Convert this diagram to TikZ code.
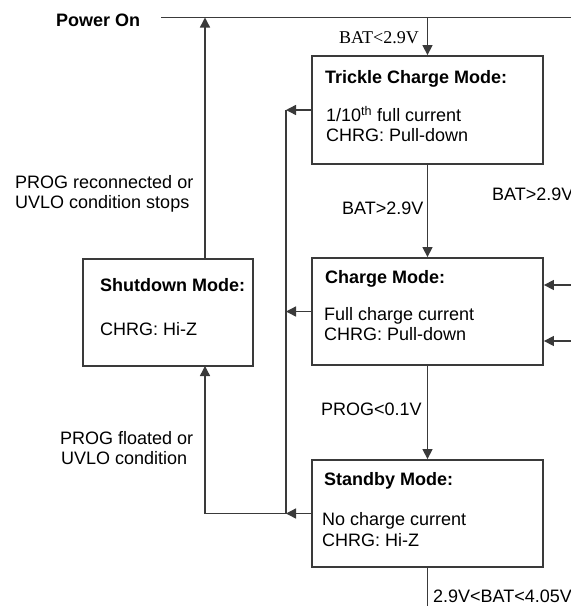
\documentclass[tikz,border=0pt]{standalone}
\usepackage{fontspec}
\setmainfont{Liberation Sans}
\newfontfamily\serifl{Liberation Serif}
\usetikzlibrary{arrows.meta}
\definecolor{linecol}{HTML}{3A3A3A}
\tikzset{
  modebox/.style={draw=linecol, line width=1.8pt, minimum width=231pt, minimum height=107pt, inner sep=0pt},
  conn/.style={draw=linecol, line width=1.4pt},
  arr/.style={conn, -{Triangle[length=10pt,width=10pt]}},
  txt/.style={anchor=base west, inner sep=0pt, font=\fontsize{18}{20}\selectfont},
  ttl/.style={txt, font=\fontsize{18}{20}\selectfont\bfseries},
}
\begin{document}
\begin{tikzpicture}[x=1pt,y=-1pt]
\useasboundingbox (0,0) rectangle (571,606);
% boxes
\node[modebox, minimum height=108pt] (trickle) at (427.5,110) {};
\node[modebox] (charge) at (427.5,311.5) {};
\node[modebox] (standby) at (427.5,513.5) {};
\node[modebox, minimum width=170pt] (shutdown) at (168,312.5) {};
% box texts
\node[ttl] (t1) at (325,83) {Trickle Charge Mode:};
\node[txt] (t2) at (326,121.5) {1/10\textsuperscript{th} full current};
\node[txt] (t3) at (326,141.5) {CHRG: Pull-down};
\node[ttl] (c1) at (325,283) {Charge Mode:};
\node[txt] (c2) at (324,320.5) {Full charge current};
\node[txt] (c3) at (324,340.5) {CHRG: Pull-down};
\node[ttl] (s1) at (324,485) {Standby Mode:};
\node[txt] (s2) at (322,525) {No charge current};
\node[txt] (s3) at (322,546.5) {CHRG: Hi-Z};
\node[ttl] (d1) at (100,291) {Shutdown Mode:};
\node[txt] (d2) at (100,335.5) {CHRG: Hi-Z};
% labels
\node[ttl] (pwr) at (56,26.5) {Power On};
\node[txt, font=\fontsize{18}{20}\selectfont\serifl] (l1) at (339,43) {BAT<2.9V};
\node[txt] (l2) at (342,214) {BAT>2.9V};
\node[txt] (l3) at (492,200) {BAT>2.9V};
\node[txt] (l4) at (321,415) {PROG<0.1V};
\node[txt] (l5) at (433,602) {2.9V<BAT<4.05V};
\node[txt] (l6) at (15,188.3) {PROG reconnected or};
\node[txt] (l7) at (15,208) {UVLO condition stops};
\node[txt] (l8) at (60,444) {PROG floated or};
\node[txt] (l9) at (61,464) {UVLO condition};
% coordinates
\coordinate (pw) at (161,17.5);
\coordinate (pe) at (571,17.5);
\coordinate (bot) at (427.5,606);
\coordinate (busT) at (286,110);
\coordinate (busB) at (286,513.5);
\coordinate (busL) at (205,513.5);
\coordinate (sdT) at (205,259);
\coordinate (sdB) at (205,366);
\coordinate (r1) at (571,285);
\coordinate (r2) at (571,341);
% connectors
\draw[conn] (pw) -- (pe);
\draw[arr] (trickle.north |- pw) -- (trickle.north);
\draw[arr] (trickle.south) -- (charge.north);
\draw[arr] (charge.south) -- (standby.north);
\draw[conn] (standby.south) -- (bot);
\draw[arr] (r1) -- (charge.east |- r1);
\draw[arr] (r2) -- (charge.east |- r2);
\draw[arr] (trickle.west) -- (busT);
\draw[arr] (charge.west) -- (charge.west -| busT);
\draw[arr] (standby.west) -- (busB);
\draw[conn] (busT) -- (busB);
\draw[arr] (busB) -- (busL) -- (sdB);
\draw[arr] (sdT) -- (sdT |- pw);
\end{tikzpicture}
\end{document}
